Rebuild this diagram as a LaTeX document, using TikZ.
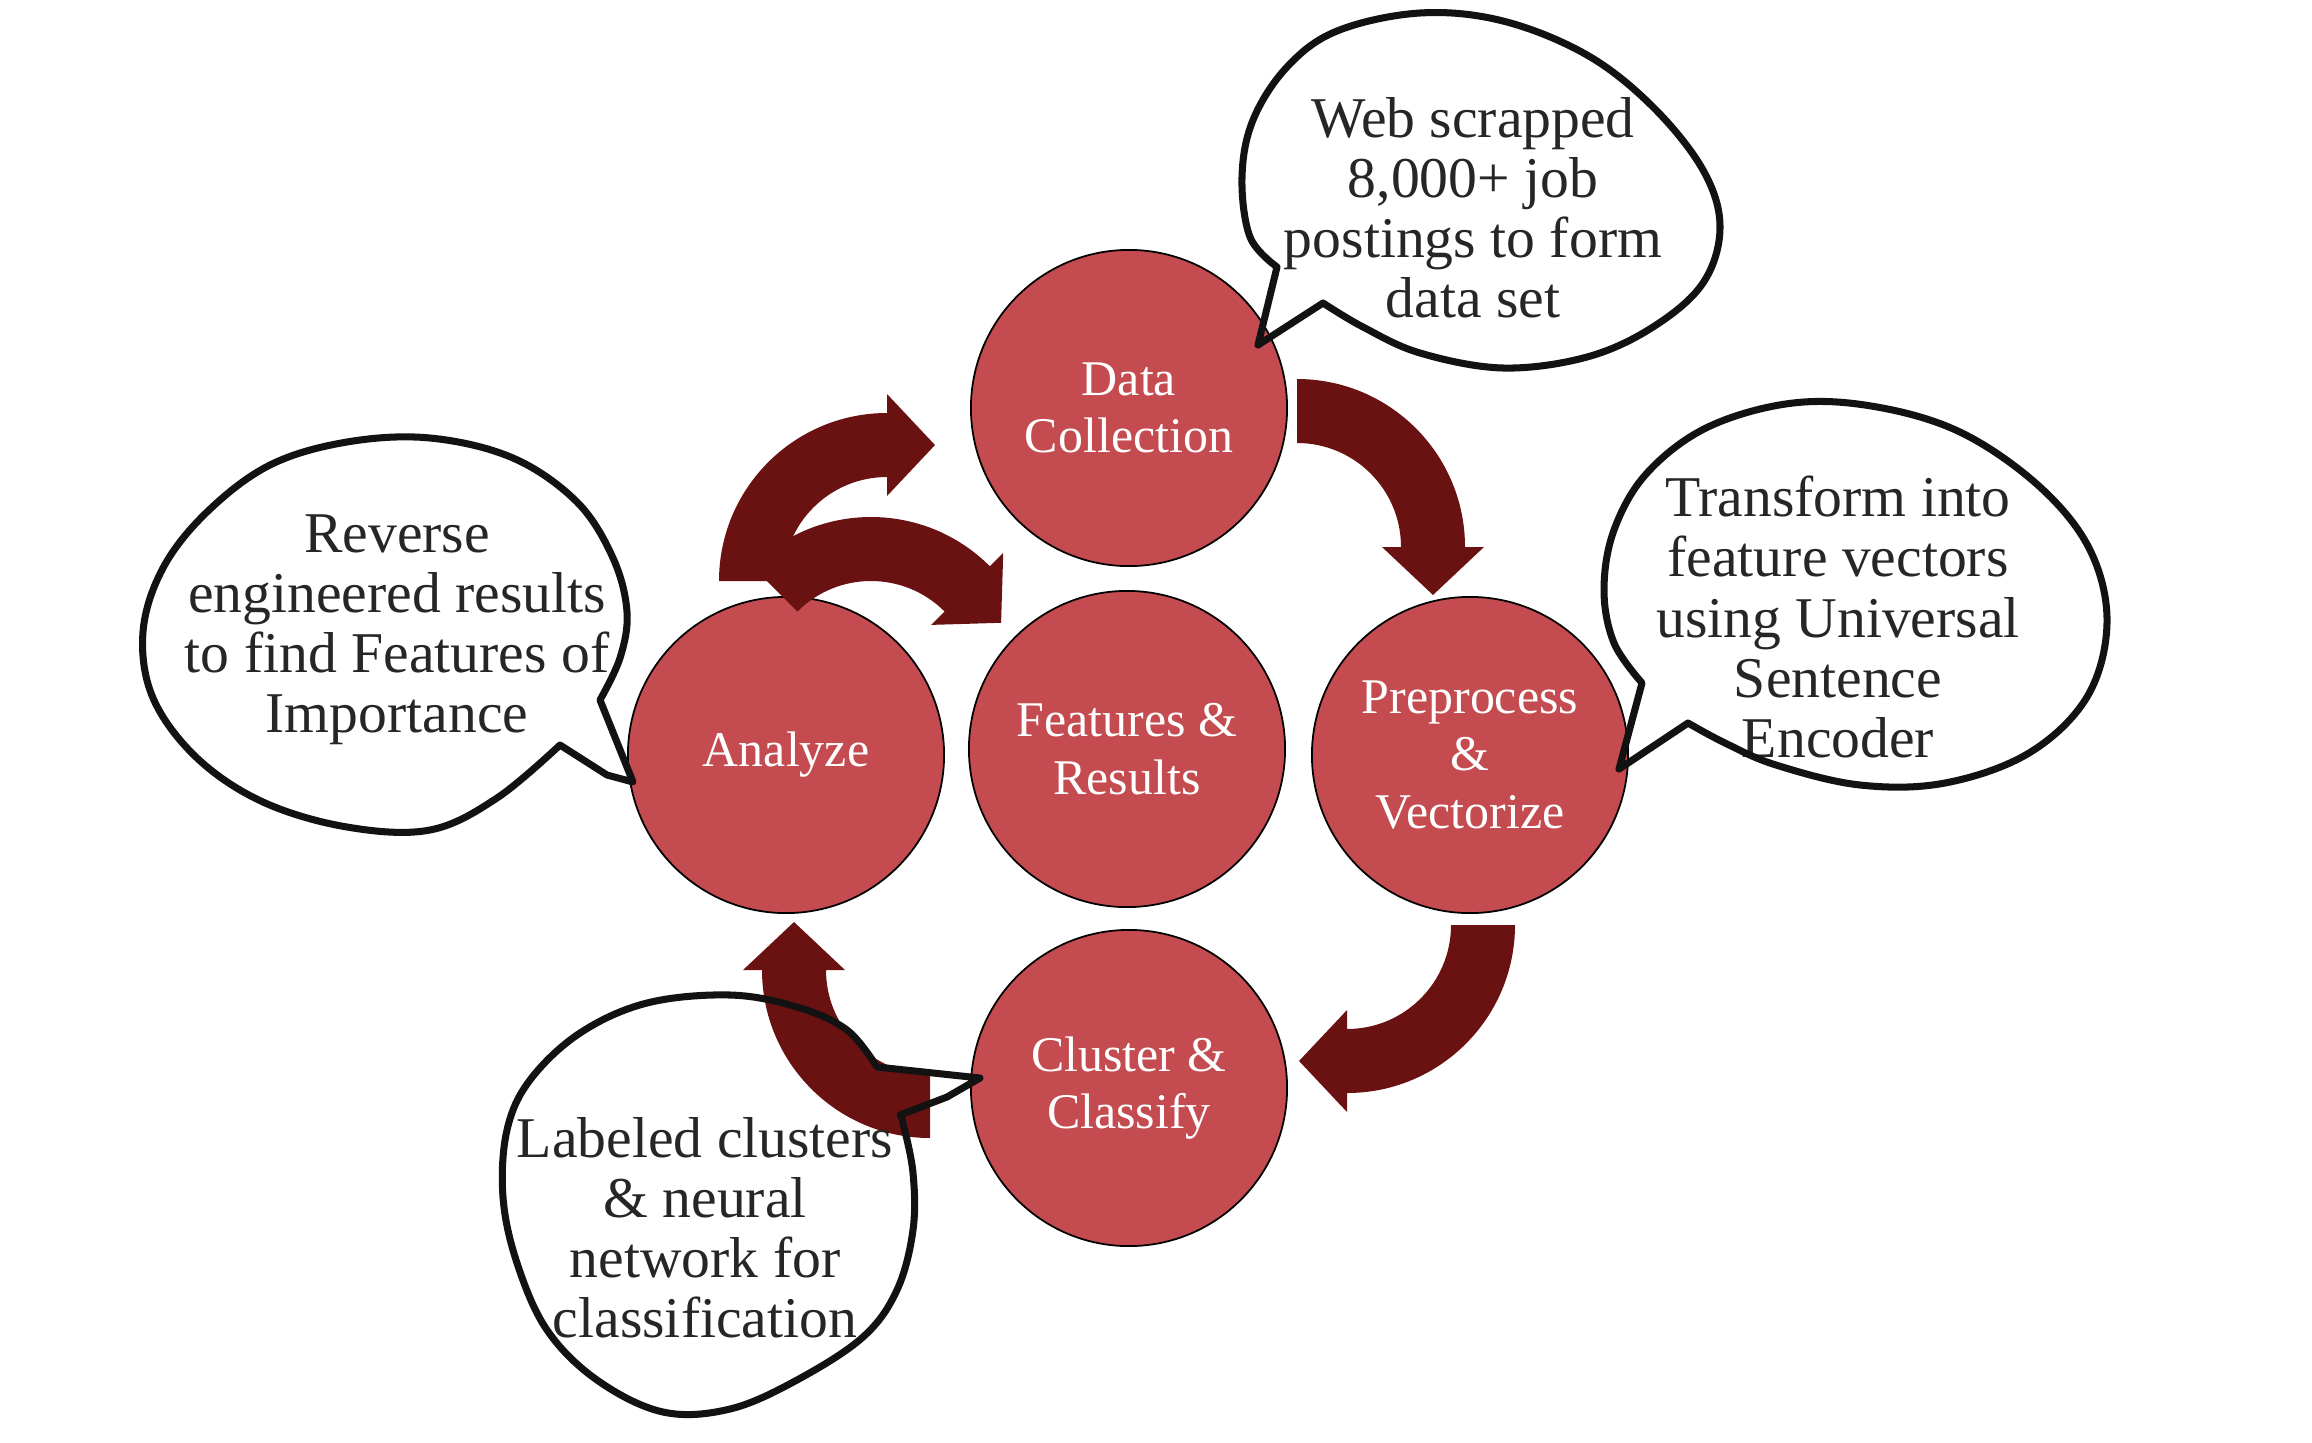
\documentclass[tikz,border=0pt]{standalone}
\usepackage{fontspec}
\setmainfont{Liberation Serif}
\definecolor{stagered}{HTML}{C44B4F}
\definecolor{arrowred}{HTML}{6A1212}
\definecolor{notegray}{HTML}{262626}

\tikzset{bigarrow/.style={fill=arrowred,draw=none}}

% quarter-turn block arrow: #1 centre, #2 start angle (turns clockwise)
\newcommand{\roundarrow}[2]{%
  \fill[bigarrow,shift={(#1)}] (#2:168) arc[start angle=#2,end angle=#2+90,radius=168]
    -- (#2+90:187) -- (#2+109.44:144.2) -- (#2+90:85) -- (#2+90:104)
    arc[start angle=#2+90,end angle=#2,radius=104] -- cycle;}

\begin{document}
\begin{tikzpicture}[
	x=0.01cm,y=-0.01cm,
	stage/.style={circle,draw=black,line width=0.5pt,fill=stagered,text=white,
		minimum size=3.16cm,inner sep=0pt,align=center,font=\fontsize{14.2}{16.4}\selectfont},
	note/.style={align=center,text=notegray,inner sep=0pt,font=\fontsize{16.4}{17.1}\selectfont},
	callout/.style={draw=black!93,line width=2pt,line join=round},
	]
	\useasboundingbox (0,0) rectangle (2312,1442);
	
	% stages
	\node[stage] (collect) at (1129,408) {Data\\Collection};
	\node[stage] (features) at (1127,749) {Features \&\\Results};
	\node[stage] (analyze) at (786,755) {Analyze};
	\node[stage] (preprocess) at (1470,755) {Preprocess\\\&\\Vectorize};
	\node[stage] (cluster) at (1129,1088) {Cluster \&\\Classify};
	
	% arrows
	\coordinate (toprep) at (1297,547);
	\coordinate (toclus) at (1347,925);
	\coordinate (toanal) at (930,970);
	\coordinate (tocoll) at (887,581);
	\coordinate (tofeat) at (871,685);
	\roundarrow{toprep}{-90}
	\roundarrow{toclus}{0}
	\roundarrow{toanal}{90}
	\roundarrow{tocoll}{180}
	\roundarrow{tofeat}{225}
	
	% notes
	\node[note] (collectnote) at (1473,208) {Web scrapped\\8,000+ job\\postings to form\\data set};
	\node[note] (preprocessnote) at (1838,617) {Transform into\\feature vectors\\using Universal\\Sentence\\Encoder};
	\node[note] (analyzenote) at (397,630) {Reverse\\engineered results\\to find Features of\\Importance};
	\node[note] (clusternote) at (705,1228) {Labeled clusters\\\& neural\\network for\\classification};
	
	\draw[callout] (1258,345) -- plot[smooth,tension=0.6] coordinates {(1277,267) (1250,237) (1242,177)
		(1253,120) (1287,67) (1337,31) (1420,13) (1503,21) (1587,55) (1653,107) (1703,170) (1720,227)
		(1703,283) (1653,327) (1587,357) (1503,368) (1420,353) (1363,327) (1323,303)} -- cycle;
	\draw[callout] (1619,769) -- plot[smooth,tension=0.6] coordinates {(1642,683) (1614,643) (1604,590)
		(1614,530) (1647,473) (1708,427) (1793,403) (1877,407) (1962,433) (2040,487) (2090,550) (2107,623)
		(2087,697) (2029,753) (1945,783) (1860,785) (1776,765) (1725,743) (1688,723)} -- cycle;
	\draw[callout] (633,782) -- plot[smooth,tension=0.6] coordinates {(600,700) (620,658) (627,612)
		(613,558) (577,502) (513,458) (430,438) (347,442) (270,465) (207,512) (163,568) (143,632)
		(153,698) (197,758) (263,802) (347,827) (430,830) (497,798) (560,745)} -- (607,775) -- cycle;
	\draw[callout] (980,1078) -- (877,1067) -- plot[smooth,tension=0.6] coordinates {(877,1067)
		(847,1030) (797,1007) (730,995) (647,1003) (580,1033) (530,1080) (507,1130) (503,1197) (517,1263)
		(547,1330) (597,1380) (663,1412) (730,1409) (797,1380) (863,1337) (897,1290) (913,1230) (913,1173)
		(903,1123) (900,1115)} -- (947,1097) -- cycle;
\end{tikzpicture}
\end{document}
